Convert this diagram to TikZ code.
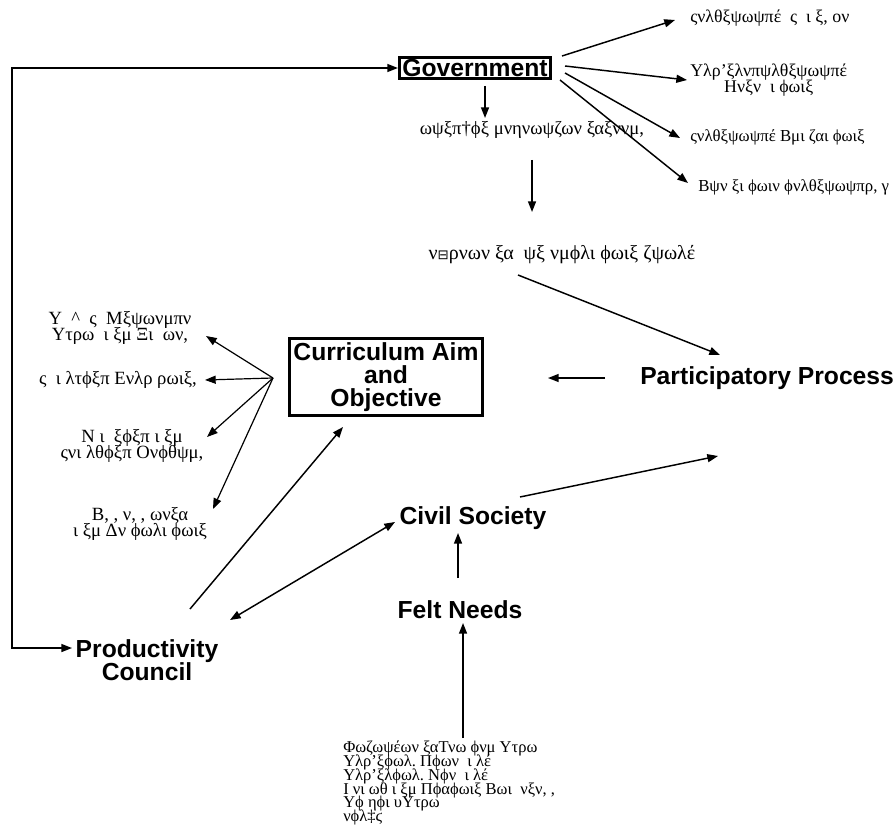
\documentclass[tikz,border=0pt]{standalone}
\usepackage{fontspec}
\setmainfont{Liberation Serif}
\newfontfamily\hv{Liberation Sans}
\newfontfamily\dvs{DejaVu Sans}
\usetikzlibrary{arrows.meta}
\tikzset{
  arr/.style={line width=1.1pt, -{Triangle[length=8pt,width=6pt]}},
  darr/.style={line width=1.1pt, {Triangle[length=8pt,width=6pt]}-{Triangle[length=8pt,width=6pt]}},
  bl/.style={font=\hv\bfseries\fontsize{18.5}{17}\selectfont, inner sep=0pt, align=center},
  gk/.style={font=\fontsize{13.4}{12}\selectfont, inner sep=0pt, align=center},
  gks/.style={font=\fontsize{12.6}{12}\selectfont, inner sep=0pt, align=center},
  gkm/.style={font=\fontsize{14}{12.5}\selectfont, inner sep=0pt, align=center},
  gkl/.style={font=\fontsize{15}{15}\selectfont, inner sep=0pt, align=center},
  gkb/.style={font=\fontsize{12.4}{10.3}\selectfont, inner sep=0pt, align=left},
  boxed/.style={draw, line width=2.6pt}
}
\begin{document}
\lineskiplimit=-50pt\relax
\lineskip=0pt\relax
\begin{tikzpicture}[x=0.75pt,y=-0.75pt]
\useasboundingbox (0,0) rectangle (895,830);
% main nodes
\node[bl,boxed,inner xsep=2pt,inner ysep=1.5pt] (gov) at (475,68) {Government};
\node[bl,boxed,minimum width=145pt,minimum height=58pt] (cur) at (386,377) {Curriculum Aim\\and\\Objective};
\node[bl,anchor=west] (part) at (640,378) {Participatory Process};
\node[bl] (civ) at (473,518) {Civil Society};
\node[bl] (felt) at (460,610) {Felt Needs};
\node[bl] (prod) at (147,660) {Productivity\\Council};
% right labels
\node[gk,anchor=west] (t1) at (690,18) {ςνλθξψωψπέ\ \ ς\ \ ι\ ξ,\ ον};
\node[gk,anchor=west] (t2) at (690,80) {Υλρ'ξλνπψλθξψωψπέ\\Ηνξν\ \ ι\ ϕωιξ};
\node[gks,anchor=west] (t3) at (690,137) {ςνλθξψωψπέ Βμι ζαι ϕωιξ};
\node[gks,anchor=west] (t4) at (698,187) {Βψν ξι ϕωιν ϕνλθξψωψπρ, γ};
% middle labels
\node[gkl,font=\fontsize{14}{14}\selectfont] (m1) at (532,130) {ωψξπ†ϕξ μνηνωψζων ξαξννμ,};
\node[gkl] (m2) at (562,255) {ν{\dvs\fontsize{10}{10}\selectfont ⊟}ρνων ξα\ \ ψξ νμϕλι ϕωιξ ζψωλέ};
% left labels
\node[gkm] (l1) at (120,328) {Υ\ \ \^{}\ \ ς\ \ Μξψωνμπν\\Υτρω\ \ ι\ ξμ\ Ξι\ \ ων,};
\node[gkm] (l2) at (118,380) {ς\ \ ι\ λτϕξπ Ενλρ\ ρωιξ,};
\node[gkm] (l3) at (132,446) {Ν\ ι\ \ ξϕξπ\ ι\ ξμ\\ςνι\ λθϕξπ Ονϕθψμ,};
\node[gkm] (l4) at (140,524) {Β,\ ,\ ν,\ ,\ ωνξα\\ι\ ξμ\ Δν\ ϕωλι\ ϕωιξ};
% bottom block
\node[gkb,anchor=north west] (bt) at (343,741) {Φωζωψέων ξαΤνω\ ϕνμ\ Υτρω\\Υλρ'ξϕωλ.\ Πϕων\ \ ι\ λέ\\Υλρ'ξλϕωλ.\ Νϕν\ \ ι\ λέ\\Ι\ νι\ ωθ\ ι\ ξμ\ Πϕαϕωιξ\ Βωι\ \ νξν,\ ,\\Υϕ\ ηϕι\ υΥτρω\\νϕλ‡ϛ};
% coordinates
\coordinate (g1) at (562,56); \coordinate (e1) at (675,20);
\coordinate (g2) at (565,66); \coordinate (e2) at (687,80);
\coordinate (g3) at (565,73); \coordinate (e3) at (680,138);
\coordinate (g4) at (560,80); \coordinate (e4) at (688,183);
\coordinate (gd) at (485,86); \coordinate (gde) at (485,118);
\coordinate (md) at (532,160); \coordinate (mde) at (532,212);
\coordinate (ms) at (518,275); \coordinate (pe1) at (720,355);
\coordinate (pa) at (605,378); \coordinate (ce) at (548,378);
\coordinate (fan) at (273,378);
\coordinate (f1) at (206,336); \coordinate (f2) at (205,380);
\coordinate (f3) at (207,437); \coordinate (f4) at (213,509);
\coordinate (ps) at (190,609); \coordinate (cb) at (343,427);
\coordinate (pc) at (230,620); \coordinate (cc) at (395,522);
\coordinate (cs) at (520,497); \coordinate (pe2) at (718,456);
\coordinate (fs) at (458,578); \coordinate (fe) at (458,533);
\coordinate (bs) at (463,738); \coordinate (be) at (463,623);
\coordinate (lt) at (12,68); \coordinate (lb) at (12,648); \coordinate (pw) at (72,648);
% connectors
\draw[arr] (g1) -- (e1);
\draw[arr] (g2) -- (e2);
\draw[arr] (g3) -- (e3);
\draw[arr] (g4) -- (e4);
\draw[arr] (gd) -- (gde);
\draw[arr] (md) -- (mde);
\draw[arr] (ms) -- (pe1);
\draw[arr] (pa) -- (ce);
\foreach \t in {f1,f2,f3,f4} \draw[arr,line width=0.9pt] (fan) -- (\t);
\draw[arr] (ps) -- (cb);
\draw[darr] (pc) -- (cc);
\draw[arr] (cs) -- (pe2);
\draw[arr] (fs) -- (fe);
\draw[arr] (bs) -- (be);
\draw[darr] (pw) -- (lb) -- (lt) -- (gov.west);
\end{tikzpicture}
\end{document}
